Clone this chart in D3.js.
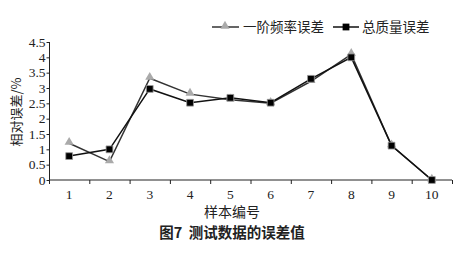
<!DOCTYPE html>
<html>
<head>
<meta charset="utf-8">
<script src="https://cdn.jsdelivr.net/npm/d3@7"></script>
<style>
  body { margin: 0; background: #fff; }
  svg { display: block; }
  .cjk { font-family: "Noto Sans CJK SC", sans-serif; }
  .num { font-family: "Liberation Serif", "DejaVu Serif", serif; }
</style>
</head>
<body>
<div id="chart"></div>
<script>
const WIDTH = 464
const HEIGHT = 253

// data
const samples = ['1', '2', '3', '4', '5', '6', '7', '8', '9', '10']
const freqError = [1.2, 0.6, 3.32, 2.8, 2.62, 2.5, 3.22, 4.1, 1.12, 0]
const massError = [0.78, 1.0, 2.97, 2.52, 2.68, 2.52, 3.3, 4.0, 1.12, 0]
const yTicks = [0, 0.5, 1, 1.5, 2, 2.5, 3, 3.5, 4, 4.5]
const seriesNames = ['一阶频率误差', '总质量误差']

const M = { top: 42, right: 12, bottom: 73, left: 49 }

const svg = d3.select('#chart').append('svg')
  .attr('width', WIDTH)
  .attr('height', HEIGHT)

const x = d3.scaleBand()
  .domain(samples)
  .range([M.left, 452])

const y = d3.scaleLinear()
  .domain([0, 4.5])
  .range([HEIGHT - M.bottom, M.top])

// axes
const xAxis = svg.append('g')
  .attr('transform', 'translate(0,' + y(0) + ')')
xAxis.append('line')
  .attr('x1', x.range()[0]).attr('x2', x.range()[1])
  .attr('stroke', '#222').attr('stroke-width', 1)
xAxis.selectAll('.tk')
  .data(samples.map((d) => x(d)).concat([x.range()[1]]))
  .enter().append('line')
    .attr('x1', (d) => d + 0.5).attr('x2', (d) => d + 0.5)
    .attr('y1', 0).attr('y2', 4)
    .attr('stroke', '#222')
xAxis.selectAll('text')
  .data(samples)
  .enter().append('text')
    .attr('class', 'num')
    .attr('x', (d) => x(d) + x.bandwidth() / 2)
    .attr('y', 19)
    .attr('text-anchor', 'middle')
    .attr('font-size', 13.5)
    .attr('fill', '#222')
    .text((d) => d)

const yAxis = svg.append('g')
  .attr('transform', 'translate(' + (M.left + 0.5) + ',0)')
yAxis.append('line')
  .attr('y1', y(0)).attr('y2', y(4.5))
  .attr('stroke', '#222')
yAxis.selectAll('.tk')
  .data(yTicks)
  .enter().append('line')
    .attr('x1', -3).attr('x2', 0)
    .attr('y1', (d) => y(d) + 0.5).attr('y2', (d) => y(d) + 0.5)
    .attr('stroke', '#222')
yAxis.selectAll('text')
  .data(yTicks)
  .enter().append('text')
    .attr('class', 'num')
    .attr('x', -4)
    .attr('y', (d) => y(d))
    .attr('dy', '0.35em')
    .attr('text-anchor', 'end')
    .attr('font-size', 13.5)
    .attr('fill', '#222')
    .text((d) => d)

// axis titles
svg.append('text')
  .attr('class', 'cjk')
  .attr('transform', 'translate(21,112) rotate(-90)')
  .attr('text-anchor', 'middle')
  .attr('font-size', 13)
  .attr('fill', '#222')
  .text('相对误差/%')

svg.append('text')
  .attr('class', 'cjk')
  .attr('x', 232).attr('y', 217)
  .attr('text-anchor', 'middle')
  .attr('font-size', 14)
  .attr('fill', '#222')
  .text('样本编号')

svg.append('text')
  .attr('class', 'cjk')
  .attr('x', 232).attr('y', 238)
  .attr('text-anchor', 'middle')
  .attr('font-size', 14.5)
  .attr('font-weight', 'bold')
  .attr('fill', '#222')
  .text('图7\u00a0\u00a0测试数据的误差值')

// lines
const cx = (i) => x(samples[i]) + x.bandwidth() / 2
const line = d3.line()
  .x((d, i) => cx(i))
  .y((d) => y(d))

const tri = d3.symbol().type(d3.symbolTriangle).size(36)
const sq = d3.symbol().type(d3.symbolSquare).size(46)

svg.append('path')
  .datum(freqError)
  .attr('d', line)
  .attr('fill', 'none')
  .attr('stroke', '#333')
  .attr('stroke-width', 1.5)

svg.selectAll('.tri')
  .data(freqError)
  .enter().append('path')
    .attr('class', 'tri')
    .attr('transform', (d, i) => 'translate(' + cx(i) + ',' + (y(d) - 1) + ')')
    .attr('d', tri)
    .attr('fill', '#aaa')

svg.append('path')
  .datum(massError)
  .attr('d', line)
  .attr('fill', 'none')
  .attr('stroke', '#111')
  .attr('stroke-width', 1.5)

svg.selectAll('.sq')
  .data(massError)
  .enter().append('path')
    .attr('class', 'sq')
    .attr('transform', (d, i) => 'translate(' + cx(i) + ',' + y(d) + ')')
    .attr('d', sq)
    .attr('fill', '#000')
    .attr('stroke', '#999')
    .attr('stroke-width', 0.8)

// legend
const legend = svg.append('g')
  .attr('transform', 'translate(0,27)')

legend.append('line')
  .attr('x1', 212).attr('x2', 239)
  .attr('stroke', '#333').attr('stroke-width', 1.5)
legend.append('path')
  .attr('transform', 'translate(225,-1)')
  .attr('d', tri)
  .attr('fill', '#aaa')
legend.append('text')
  .attr('class', 'cjk')
  .attr('x', 243).attr('y', 0).attr('dy', '0.36em')
  .attr('font-size', 13.5)
  .attr('fill', '#222')
  .text(seriesNames[0])

legend.append('line')
  .attr('x1', 333).attr('x2', 359)
  .attr('stroke', '#111').attr('stroke-width', 1.5)
legend.append('path')
  .attr('transform', 'translate(346,0)')
  .attr('d', sq)
  .attr('fill', '#000')
legend.append('text')
  .attr('class', 'cjk')
  .attr('x', 362).attr('y', 0).attr('dy', '0.36em')
  .attr('font-size', 13.5)
  .attr('fill', '#222')
  .text(seriesNames[1])
</script>
</body>
</html>
